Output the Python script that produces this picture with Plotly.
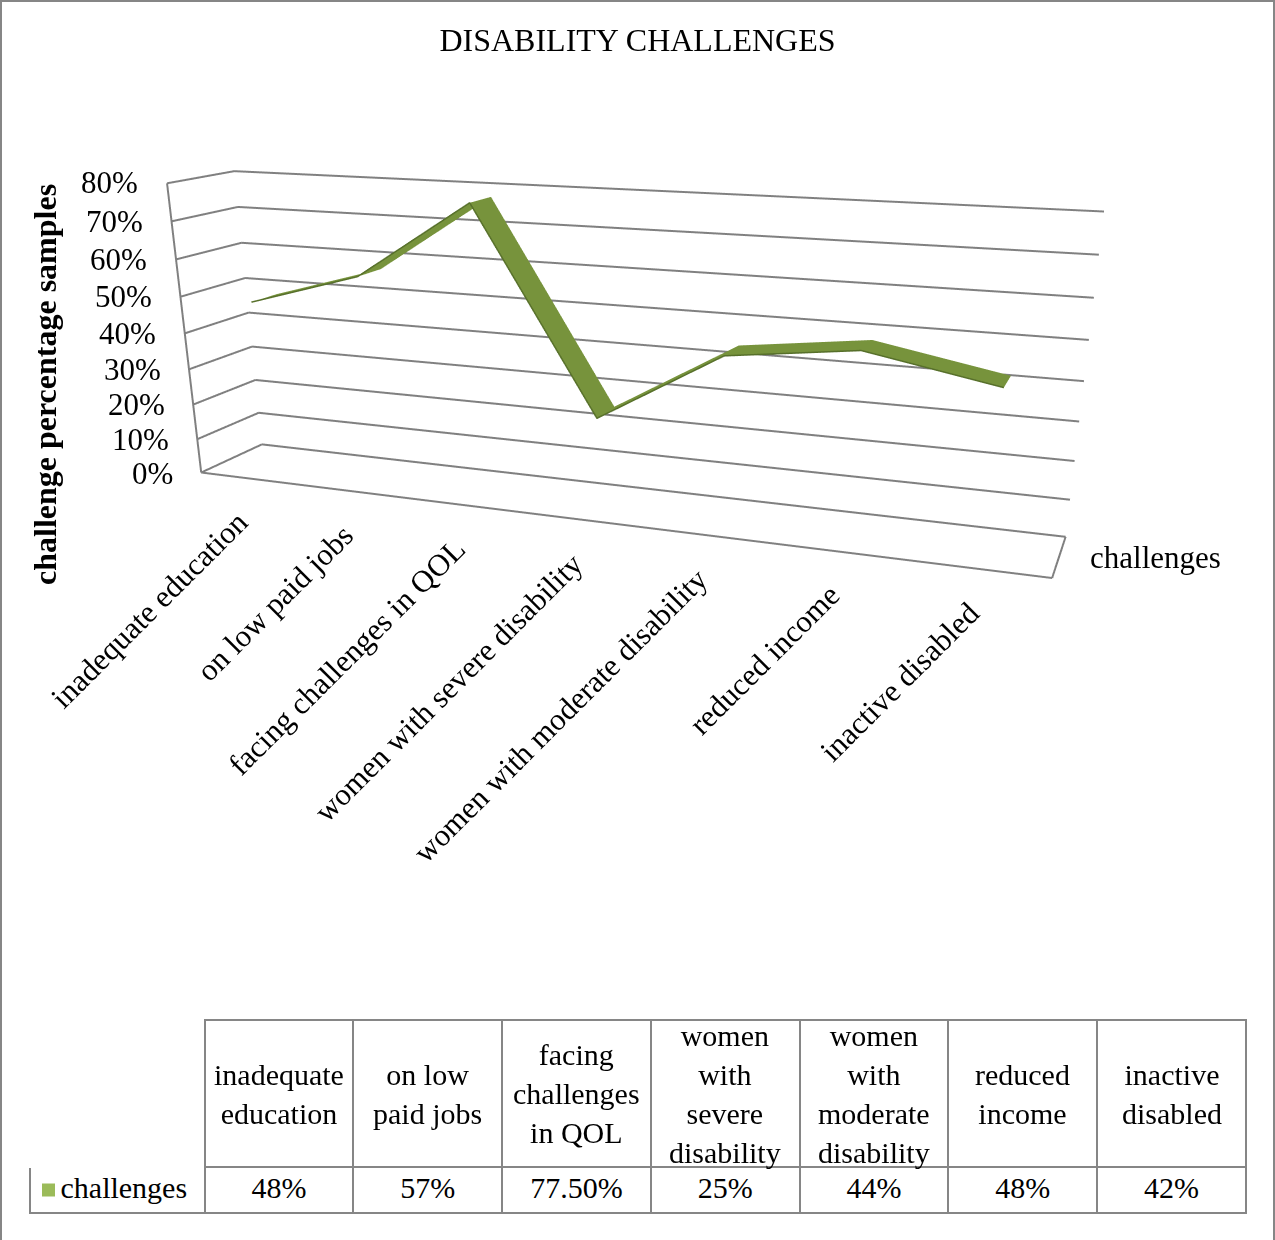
import numpy as np
import plotly.graph_objects as go

# ---------------- data ----------------
categories = ["inadequate education", "on low paid jobs", "facing challenges in QOL",
              "women with severe disability", "women with moderate disability",
              "reduced income", "inactive disabled"]
table_headers = ["inadequate<br>education", "on low<br>paid jobs", "facing<br>challenges<br>in QOL",
                 "women<br>with<br>severe<br>disability", "women<br>with<br>moderate<br>disability",
                 "reduced<br>income", "inactive<br>disabled"]
series_name = "challenges"
values = [0.48, 0.57, 0.775, 0.25, 0.44, 0.48, 0.42]
value_labels = ["48%", "57%", "77.50%", "25%", "44%", "48%", "42%"]
z_ticks = [0.0, 0.1, 0.2, 0.3, 0.4, 0.5, 0.6, 0.7, 0.8]
z_tick_labels = ["0%", "10%", "20%", "30%", "40%", "50%", "60%", "70%", "80%"]

# ---------------- style ----------------
W, H = 1275, 1240
SERIF = "Liberation Serif, Times New Roman, serif"
GRID = "#868686"
GREEN = "#77933C"
GREEN_DARK = "#566F2A"
KEY_GREEN = "#9BBB59"

x_rng = [-0.5, len(categories) - 0.5]
y_rng = [0.0, 1.0]
z_rng = [0.0, 0.8]
rib_front, rib_back = 0.3, 0.7   # ribbon depth (gap depth 150%)

# wall lines sit a hair inside the box so they never fight with the wall planes
ex_, ey_, ez_ = 0.02, 0.006, 0.002
xl, xr = x_rng[0] + ex_, x_rng[1] - ex_
yf, yb = y_rng[0] + ey_, y_rng[1] - ey_

fig = go.Figure()

# walls: gridlines on the left wall and back wall, plus the visible box edges
segments = []
for t in z_ticks:
    zt = min(max(t, z_rng[0] + ez_), z_rng[1] - ez_)
    segments.append(((xl, yf, zt), (xl, yb, zt)))   # left wall
    segments.append(((xl, yb, zt), (xr, yb, zt)))   # back wall
z_lo = z_rng[0] + ez_
segments.append(((xl, yf, z_lo), (xl, yf, z_rng[1] - ez_)))  # value axis edge
segments.append(((xl, yf, z_lo), (xr, yf, z_lo)))            # floor front
segments.append(((xr, yf, z_lo), (xr, yb, z_lo)))            # floor right
for p0, p1 in segments:
    fig.add_trace(go.Scatter3d(
        x=[p0[0], p1[0]], y=[p0[1], p1[1]], z=[p0[2], p1[2]], mode="lines",
        line=dict(color="#808080", width=4), hoverinfo="skip", showlegend=False))

# ribbon mesh built from the values
xs, ys, zs, I, J, K = [], [], [], [], [], []
for i, v in enumerate(values):
    xs += [i, i]
    ys += [rib_front, rib_back]
    zs += [v, v]
for i in range(len(values) - 1):
    a = 2 * i
    I += [a, a + 1]
    J += [a + 1, a + 3]
    K += [a + 2, a + 2]
fig.add_trace(go.Mesh3d(
    x=xs, y=ys, z=zs, i=I, j=J, k=K, color=GREEN, flatshading=True,
    lighting=dict(ambient=1.0, diffuse=0.0, specular=0.0, fresnel=0.0),
    hoverinfo="skip", showscale=False, name=series_name))
fig.add_trace(go.Scatter3d(
    x=list(range(len(values))), y=[rib_front] * len(values), z=values,
    mode="lines", line=dict(color=GREEN_DARK, width=3), hoverinfo="skip",
    showlegend=False))

axis_common = dict(showbackground=False, showspikes=False, zeroline=False,
                   title=dict(text=""), showgrid=False, showline=False,
                   showticklabels=False, ticks="")

annotations3d = []
for i, c in enumerate(categories):
    annotations3d.append(dict(
        x=i, y=y_rng[0], z=z_rng[0], text=c, showarrow=False, textangle=-45,
        xanchor="right", yanchor="top", xshift=8, yshift=-22,
        font=dict(family=SERIF, size=31, color="black")))
for t, lab in zip(z_ticks, z_tick_labels):
    annotations3d.append(dict(
        x=x_rng[0], y=y_rng[0], z=t, text=lab, showarrow=False,
        xanchor="right", yanchor="middle", xshift=-24,
        font=dict(family=SERIF, size=31, color="black")))
annotations3d.append(dict(
    x=x_rng[1], y=(y_rng[0] + y_rng[1]) / 2, z=z_rng[0], text=series_name,
    showarrow=False, xanchor="left", yanchor="middle", xshift=26,
    font=dict(family=SERIF, size=31, color="black")))

# ---------------- table geometry ----------------
tbl_x0, tbl_x1 = 30, 1246
hdr_top, hdr_h, row_h = 1020, 147, 46
col_w = [175] + [149] * len(categories)
scale = (tbl_x1 - tbl_x0) / sum(col_w)
edges = np.concatenate([[0], np.cumsum(col_w)]) * scale + tbl_x0
row_top = hdr_top + hdr_h

page_ann = [dict(
    text="<b>challenge percentage samples</b>", textangle=-90,
    x=45 / W, y=1 - 385 / H, xref="paper", yref="paper", showarrow=False,
    xanchor="center", yanchor="middle",
    font=dict(family=SERIF, size=32, color="black"))]
for k, h in enumerate(table_headers):
    cx = (edges[k + 1] + edges[k + 2]) / 2
    page_ann.append(dict(
        text=h, x=cx / W, y=1 - (hdr_top + hdr_h / 2) / H, xref="paper", yref="paper",
        showarrow=False, xanchor="center", yanchor="middle", align="center",
        font=dict(family=SERIF, size=30, color="black")))

key_size = 13
shapes = [
    dict(type="rect", xref="paper", yref="paper",
         x0=1 / W, x1=1 - 1 / W, y0=-0.05, y1=1 - 1 / H,
         line=dict(color=GRID, width=2), fillcolor="rgba(0,0,0,0)"),
    dict(type="rect", xref="paper", yref="paper",
         x0=(edges[0] + 12) / W, x1=(edges[0] + 12 + key_size) / W,
         y0=1 - (row_top + row_h / 2 + key_size / 2) / H,
         y1=1 - (row_top + row_h / 2 - key_size / 2) / H,
         line=dict(width=0), fillcolor=KEY_GREEN),
]

fig.update_layout(
    width=W, height=H, margin=dict(l=0, r=0, t=0, b=0),
    paper_bgcolor="white", plot_bgcolor="white", showlegend=False,
    title=dict(text="DISABILITY CHALLENGES", x=0.5, xanchor="center",
               y=1 - 40 / H, yanchor="middle",
               font=dict(family=SERIF, size=32, color="black")),
    scene=dict(
        domain=dict(x=[0, 1], y=[0, 1]),
        bgcolor="rgba(0,0,0,0)",
        aspectmode="manual", aspectratio=dict(x=2.9693, y=0.3856, z=1.0),
        xaxis=dict(axis_common, range=x_rng),
        yaxis=dict(axis_common, range=y_rng),
        zaxis=dict(axis_common, range=z_rng),
        camera=dict(eye=dict(x=1.7706, y=-4.4352, z=1.0906),
                    center=dict(x=0.1889, y=-0.2084, z=-0.8140),
                    up=dict(x=0, y=0, z=1),
                    projection=dict(type="perspective")),
        annotations=annotations3d,
    ),
    annotations=page_ann,
    shapes=shapes,
)

# data table
key = "\u00a0\u00a0\u00a0" + series_name
fig.add_trace(go.Table(
    domain=dict(x=[tbl_x0 / W, tbl_x1 / W], y=[0, 1 - hdr_top / H]),
    columnwidth=col_w,
    header=dict(values=[""] * (len(categories) + 1), height=hdr_h,
                line=dict(color=["white"] + [GRID] * len(categories), width=2),
                fill=dict(color="white"),
                font=dict(family=SERIF, size=30, color="black")),
    cells=dict(values=[[key]] + [[v] for v in value_labels], height=row_h,
               align=["left"] + ["center"] * len(categories),
               line=dict(color=GRID, width=2), fill=dict(color="white"),
               font=dict(family=SERIF, size=30, color="black")),
))

fig.write_html("out.html", config={"displayModeBar": False},
               post_script="document.body.style.margin='0px';")
